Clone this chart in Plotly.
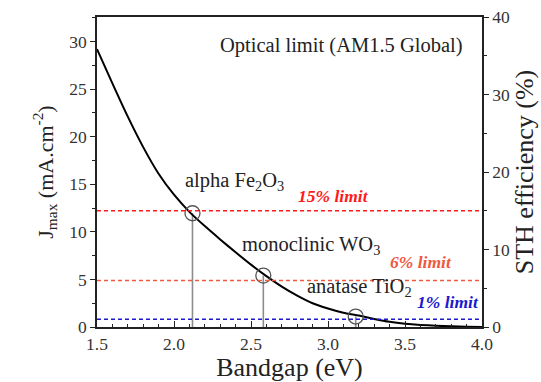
import plotly.graph_objects as go

# Maximum photocurrent under AM1.5 Global illumination vs. semiconductor bandgap
bandgap = [1.5, 1.6, 1.7, 1.8, 1.9, 2.0, 2.1, 2.2, 2.3, 2.4, 2.5, 2.6, 2.7,
           2.8, 2.9, 3.0, 3.1, 3.2, 3.3, 3.4, 3.5, 3.6, 3.7, 3.8, 3.9, 4.0]
j_max = [29.2, 25.6, 22.1, 18.9, 16.1, 13.9, 12.1, 10.6, 9.2, 7.85, 6.55, 5.35, 4.25,
         3.3, 2.5, 1.95, 1.5, 1.2, 0.85, 0.55, 0.35, 0.22, 0.13, 0.07, 0.03, 0.01]

# Photoanode materials marked on the curve
materials = ["alpha Fe<sub>2</sub>O<sub>3</sub>", "monoclinic WO<sub>3</sub>",
             "anatase TiO<sub>2</sub>"]
material_gap = [2.12, 2.58, 3.18]
material_j = [11.95, 5.4, 1.1]

# STH efficiency limits (%)
limit_sth = [15, 6, 1]
limit_labels = ["15% limit", "6% limit", "1% limit"]
limit_colors = ["#ff1a1a", "#f0583f", "#1a1acc"]

SERIF = "Liberation Serif"
INK = "#222222"

fig = go.Figure()

# drop lines from the axis to each material point
for g, j in zip(material_gap, material_j):
    fig.add_trace(go.Scatter(x=[g, g], y=[0, j], mode="lines",
                             line=dict(color="#8c8c8c", width=1.6),
                             showlegend=False, hoverinfo="skip"))

# dashed STH limit lines, drawn on the efficiency axis
for s, c in zip(limit_sth, limit_colors):
    fig.add_trace(go.Scatter(x=[1.5, 4.0], y=[s, s], mode="lines", yaxis="y2",
                             line=dict(color=c, width=1.6, dash="4px,3px"),
                             showlegend=False, hoverinfo="skip"))

fig.add_trace(go.Scatter(x=bandgap, y=j_max, mode="lines",
                         line=dict(color="black", width=2, shape="spline", smoothing=0.6),
                         showlegend=False))

fig.add_trace(go.Scatter(x=material_gap, y=material_j, mode="markers",
                         marker=dict(symbol="circle-open", size=15, color="#555555",
                                     line=dict(width=1.3)),
                         showlegend=False))

# text labels
ann = []
ann.append(dict(x=3.09, y=29.6, text="Optical limit (AM1.5 Global)",
                font=dict(size=20.5, color=INK, family=SERIF)))
mat_pos = [(2.06, 15.3), (2.43, 8.55), (2.85, 4.2)]
for t, (x, y) in zip(materials, mat_pos):
    ann.append(dict(x=x, y=y, text=t, xanchor="left",
                    font=dict(size=20.5, color=INK, family=SERIF)))
lim_pos = [(2.79, 13.75), (3.39, 6.8), (3.565, 2.6)]
for t, c, (x, y) in zip(limit_labels, limit_colors, lim_pos):
    ann.append(dict(x=x, y=y, text="<b><i>" + t + "</i></b>", xanchor="left",
                    font=dict(size=17.5, color=c, family=SERIF)))
for a in ann:
    a.update(xref="x", yref="y", showarrow=False, yanchor="middle")

tickfont = dict(size=17.5, color="#333333", family=SERIF)

fig.update_layout(
    width=541, height=382,
    margin=dict(l=97, r=59, t=17, b=55),
    paper_bgcolor="white", plot_bgcolor="white",
    font=dict(family=SERIF),
    annotations=ann,
    xaxis=dict(range=[1.5, 4.0], dtick=0.5, tick0=1.5, tickformat=".1f",
               ticks="inside", ticklen=6, tickwidth=1.3, tickcolor=INK,
               minor=dict(dtick=0.1, ticks="inside", ticklen=3, tickcolor=INK),
               showline=True, linecolor=INK, linewidth=1.6, mirror=True,
               showgrid=False, zeroline=False, tickfont=tickfont, automargin=False,
               title=dict(text="Bandgap (eV)", standoff=2,
                          font=dict(size=26, color=INK, family=SERIF))),
    yaxis=dict(range=[0, 32.57], dtick=5, tick0=0,
               ticks="outside", ticklen=5, tickwidth=1.3, tickcolor=INK,
               minor=dict(dtick=2.5, ticks="outside", ticklen=3, tickcolor=INK),
               showline=True, linecolor=INK, linewidth=1.6,
               showgrid=False, zeroline=False, tickfont=tickfont, automargin=False,
               title=dict(text="J<sub>max</sub> (mA.cm<sup>-2</sup>)", standoff=10,
                          font=dict(size=22, color=INK, family=SERIF))),
    yaxis2=dict(range=[0, 40], dtick=10, tick0=0, overlaying="y", side="right",
                ticks="outside", ticklen=5, tickwidth=1.3, tickcolor=INK,
                minor=dict(dtick=5, ticks="outside", ticklen=3, tickcolor=INK),
                showline=True, linecolor=INK, linewidth=1.6,
                showgrid=False, zeroline=False, tickfont=tickfont, automargin=False,
                title=dict(text="STH efficiency (%)", standoff=6,
                           font=dict(size=26, color=INK, family=SERIF))),
)

fig.write_html("out.html")
